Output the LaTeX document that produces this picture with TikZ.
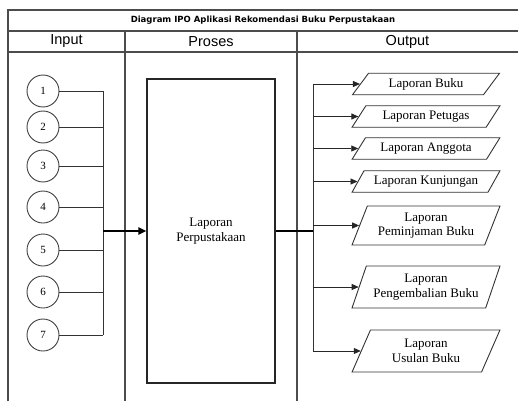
\documentclass[tikz,border=0pt]{standalone}
\usepackage{fontspec}
\setmainfont{Liberation Serif}
\newfontfamily\judulfont{DejaVu Sans}
\newfontfamily\kepalafont{Liberation Sans}
\usetikzlibrary{arrows.meta}
\usetikzlibrary{shapes.geometric}
\tikzset{
      garis/.style={draw=black!70, line width=1.1},
      konektor/.style={draw=black!80, line width=0.9},
      panah/.style={draw=black!85, line width=0.9, -{Triangle[length=7pt,width=6pt]}},
      tebal/.style={draw=black, line width=2},
      input/.style={circle, draw=black!75, line width=0.9, minimum size=32pt, inner sep=0pt,
            font=\fontsize{11}{12}\selectfont},
      proses/.style={draw=black!85, line width=1.1, minimum width=128pt, minimum height=304pt,
            align=center, font=\fontsize{13}{14.5}\selectfont},
      laporan/.style={trapezium, trapezium stretches=true, trapezium left angle=48.5,
            trapezium right angle=131.5, draw=black!80, line width=0.9, minimum width=148pt,
            minimum height=21.5pt, inner sep=0pt, align=center, font=\fontsize{13}{14.5}\selectfont},
      laporantinggi/.style={laporan, trapezium left angle=64, trapezium right angle=116},
      kepala/.style={font=\kepalafont\fontsize{14.5}{16}\selectfont},
}

\begin{document}
\begin{tikzpicture}[x=1pt, y=-1pt]
        \useasboundingbox (0,0) rectangle (518,401);

        % Draw the frame
        \draw[garis] (8,401) -- (8,10) -- (518,10);
        \draw[garis] (8,31) -- (518,31);
        \draw[garis] (8,52) -- (518,52);
        \draw[garis] (125,31) -- (125,401);
        \draw[garis] (297,31) -- (297,401);

        \node[font=\judulfont\bfseries\fontsize{8.5}{10}\selectfont] (judul) at (263,20.5)
            {Diagram IPO Aplikasi Rekomendasi Buku Perpustakaan};
        \node[kepala] (kinput) at (66.5,41.5) {Input};
        \node[kepala] (kproses) at (211,41.5) {Proses};
        \node[kepala] (koutput) at (407.5,41.5) {Output};

        % Draw the inputs
        \coordinate (busin) at (103,231);
        \foreach \i/\y in {1/91, 2/127, 3/166, 4/207, 5/250, 6/292, 7/335} {
            \node[input] (c\i) at (43,\y) {\i};
            \draw[konektor] (c\i) -- (busin |- c\i);
        }
        \draw[konektor] (busin |- c1) -- (busin |- c7);

        % Draw the process
        \node[proses] (proses) at (211,231) {Laporan\\Perpustakaan};
        \draw[tebal, -{Triangle[length=8pt,width=7pt]}] (busin) -- (proses.west);

        % Draw the outputs
        \coordinate (busout) at (313,231);
        \draw[tebal] (proses.east) -- (busout);

        \node[laporan] (p1) at (426,84) {Laporan Buku};
        \node[laporan] (p2) at (426,116.5) {Laporan Petugas};
        \node[laporan] (p3) at (426,148.5) {Laporan Anggota};
        \node[laporan] (p4) at (426,181.5) {Laporan Kunjungan};
        \node[laporantinggi, minimum height=39pt] (p5) at (426,225.5) {Laporan\\Peminjaman Buku};
        \node[laporantinggi, minimum height=42pt] (p6) at (426,287) {Laporan\\Pengembalian Buku};
        \node[laporantinggi, minimum height=42pt] (p7) at (426,351) {Laporan\\Usulan Buku};

        \draw[konektor] (busout |- p1.west) -- (busout |- p7.west);
        \foreach \p in {p1, p2, p3, p4, p5, p6, p7} {
            \draw[panah] (busout |- \p.west) -- (\p.west);
        }

    \end{tikzpicture}
\end{document}
